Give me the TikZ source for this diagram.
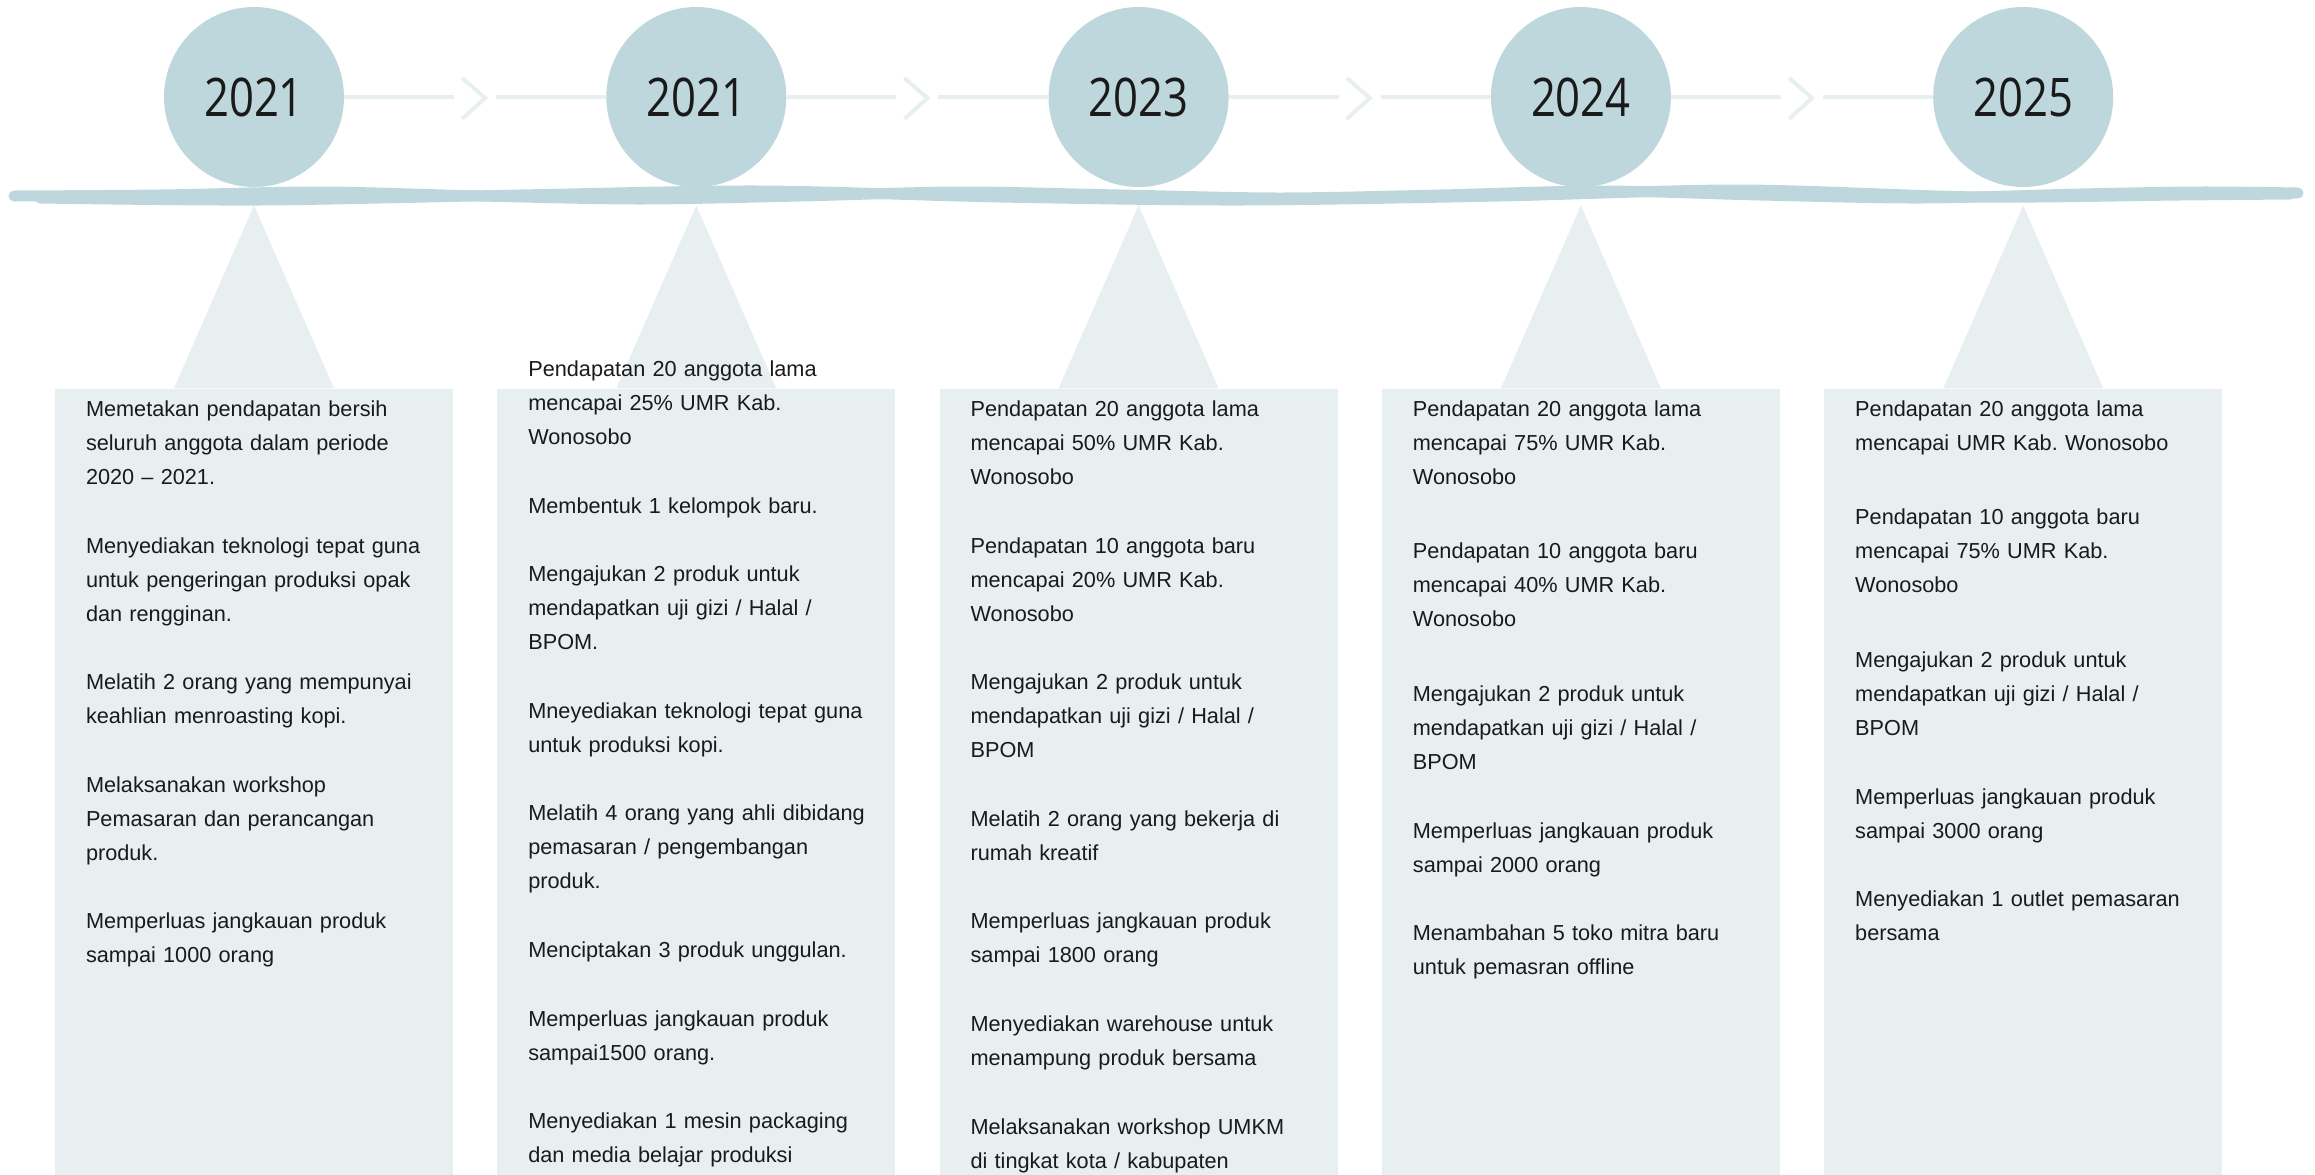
\documentclass[tikz,border=0pt]{standalone}
\usepackage{fontspec}
\setmainfont{Liberation Sans}
\newfontfamily\yearfont[FakeStretch=0.82]{Open Sans}
\usetikzlibrary{positioning,calc,chains}
\definecolor{circ}{HTML}{BED7DC}
\definecolor{pale}{HTML}{E7EFF1}
\definecolor{ink}{HTML}{1A1A1A}
\frenchspacing

\begin{document}
\begin{tikzpicture}[x=0.5pt, y=-0.5pt,
    year/.style={circle, fill=circ, minimum size=90pt, inner sep=0pt, text=ink, font=\yearfont\fontsize{26.6}{30}\selectfont},
    panel/.style={rectangle, fill=pale, minimum width=199pt, minimum height=393pt, inner sep=0pt},
    notes/.style={anchor=base west, text width=180pt, align=left, inner sep=0pt, text=ink, font=\fontsize{10.85}{17}\selectfont},
    link/.style={draw=pale, line width=2pt},
    wave/.style={draw=circ, line width=5.5pt, line cap=round},
    start chain=going right, node distance=130.75pt]

                \useasboundingbox (0,0) rectangle (2315,1174);
                \clip (0,0) rectangle (2315,1174);

                \node[year,on chain] (y1) at (254,97) {2021};
                \node[year,on chain] (y2) {2021};
                \node[year,on chain] (y3) {2023};
                \node[year,on chain] (y4) {2024};
                \node[year,on chain] (y5) {2025};

                \node[panel, below=100.5pt of y1] (b1) {};
                \node[panel, below=100.5pt of y2] (b2) {};
                \node[panel, below=100.5pt of y3] (b3) {};
                \node[panel, below=100.5pt of y4] (b4) {};
                \node[panel, below=100.5pt of y5] (b5) {};

                \fill[pale] ($(y1.south)+(0,18)$) -- ($(b1.north)+(-80,0)$) -- ($(b1.north)+(80,0)$) -- cycle;
                \fill[pale] ($(y2.south)+(0,18)$) -- ($(b2.north)+(-80,0)$) -- ($(b2.north)+(80,0)$) -- cycle;
                \fill[pale] ($(y3.south)+(0,18)$) -- ($(b3.north)+(-80,0)$) -- ($(b3.north)+(80,0)$) -- cycle;
                \fill[pale] ($(y4.south)+(0,18)$) -- ($(b4.north)+(-80,0)$) -- ($(b4.north)+(80,0)$) -- cycle;
                \fill[pale] ($(y5.south)+(0,18)$) -- ($(b5.north)+(-80,0)$) -- ($(b5.north)+(80,0)$) -- cycle;

                \coordinate (m1) at ($(y1.east)!0.5!(y2.west)$);
                \coordinate (m2) at ($(y2.east)!0.5!(y3.west)$);
                \coordinate (m3) at ($(y3.east)!0.5!(y4.west)$);
                \coordinate (m4) at ($(y4.east)!0.5!(y5.west)$);

                \draw[link] (y1.east) -- ($(m1)+(-21,0)$) ($(m1)+(21,0)$) -- (y2.west);
                \draw[link] (y2.east) -- ($(m2)+(-21,0)$) ($(m2)+(21,0)$) -- (y3.west);
                \draw[link] (y3.east) -- ($(m3)+(-21,0)$) ($(m3)+(21,0)$) -- (y4.west);
                \draw[link] (y4.east) -- ($(m4)+(-21,0)$) ($(m4)+(21,0)$) -- (y5.west);

                \draw[link] ($(m1)+(-13,-19)$) -- ($(m1)+(10,1)$) -- ($(m1)+(-13,22)$);
                \draw[link] ($(m2)+(-13,-19)$) -- ($(m2)+(10,1)$) -- ($(m2)+(-13,22)$);
                \draw[link] ($(m3)+(-13,-19)$) -- ($(m3)+(10,1)$) -- ($(m3)+(-13,22)$);
                \draw[link] ($(m4)+(-13,-19)$) -- ($(m4)+(10,1)$) -- ($(m4)+(-13,22)$);

                % hand drawn base line
                \draw[wave] plot[smooth] coordinates {(14,196) (160,195) (320,192) (480,196) (640,199) (800,196) (960,192) (1120,195) (1280,198) (1440,195) (1600,191) (1760,195) (1920,198) (2080,194) (2200,192) (2298,193)};
                \draw[wave] plot[smooth] coordinates {(40,198) (260,200) (520,195) (760,191) (1000,197) (1240,200) (1500,196) (1740,190) (1980,197) (2180,195) (2290,194)};

                \node[notes] (t1) at ($(b1.north west)+(31,28)$) {Memetakan pendapatan bersih\\ seluruh anggota dalam periode\\ 2020 – 2021.\\[17.3pt]
                    Menyediakan teknologi tepat guna\\ untuk pengeringan produksi opak\\ dan rengginan.\\[17.3pt]
                    Melatih 2 orang yang mempunyai\\ keahlian menroasting kopi.\\[17.3pt]
                    Melaksanakan workshop\\ Pemasaran dan perancangan\\ produk.\\[17.3pt]
                    Memperluas jangkauan produk\\ sampai 1000 orang};

                \node[notes] (t2) at ($(b2.north west)+(31,-12)$) {Pendapatan 20 anggota lama\\ mencapai 25\% UMR Kab.\\ Wonosobo\\[17.3pt]
                    Membentuk 1 kelompok baru.\\[17.3pt]
                    Mengajukan 2 produk untuk\\ mendapatkan uji gizi / Halal /\\ BPOM.\\[17.3pt]
                    Mneyediakan teknologi tepat guna\\ untuk produksi kopi.\\[17.3pt]
                    Melatih 4 orang yang ahli dibidang\\ pemasaran / pengembangan\\ produk.\\[17.3pt]
                    Menciptakan 3 produk unggulan.\\[17.3pt]
                    Memperluas jangkauan produk\\ sampai1500 orang.\\[17.3pt]
                    Menyediakan 1 mesin packaging\\ dan media belajar produksi};

                \node[notes] (t3) at ($(b3.north west)+(31,28)$) {Pendapatan 20 anggota lama\\ mencapai 50\% UMR Kab.\\ Wonosobo\\[17.3pt]
                    Pendapatan 10 anggota baru\\ mencapai 20\% UMR Kab.\\ Wonosobo\\[17.3pt]
                    Mengajukan 2 produk untuk\\ mendapatkan uji gizi / Halal /\\ BPOM\\[17.3pt]
                    Melatih 2 orang yang bekerja di\\ rumah kreatif\\[17.3pt]
                    Memperluas jangkauan produk\\ sampai 1800 orang\\[17.3pt]
                    Menyediakan warehouse untuk\\ menampung produk bersama\\[17.3pt]
                    Melaksanakan workshop UMKM\\ di tingkat kota / kabupaten};

                \node[notes] (t4) at ($(b4.north west)+(31,28)$) {Pendapatan 20 anggota lama\\ mencapai 75\% UMR Kab.\\ Wonosobo\\[20pt]
                    Pendapatan 10 anggota baru\\ mencapai 40\% UMR Kab.\\ Wonosobo\\[20.5pt]
                    Mengajukan 2 produk untuk\\ mendapatkan uji gizi / Halal /\\ BPOM\\[17.7pt]
                    Memperluas jangkauan produk\\ sampai 2000 orang\\[17pt]
                    Menambahan 5 toko mitra baru\\ untuk pemasran offline};

                \node[notes] (t5) at ($(b5.north west)+(31,28)$) {Pendapatan 20 anggota lama\\ mencapai UMR Kab. Wonosobo\\[20pt]
                    Pendapatan 10 anggota baru\\ mencapai 75\% UMR Kab.\\ Wonosobo\\[20.5pt]
                    Mengajukan 2 produk untuk\\ mendapatkan uji gizi / Halal /\\ BPOM\\[17.7pt]
                    Memperluas jangkauan produk\\ sampai 3000 orang\\[17pt]
                    Menyediakan 1 outlet pemasaran\\ bersama};

            \end{tikzpicture}
\end{document}
